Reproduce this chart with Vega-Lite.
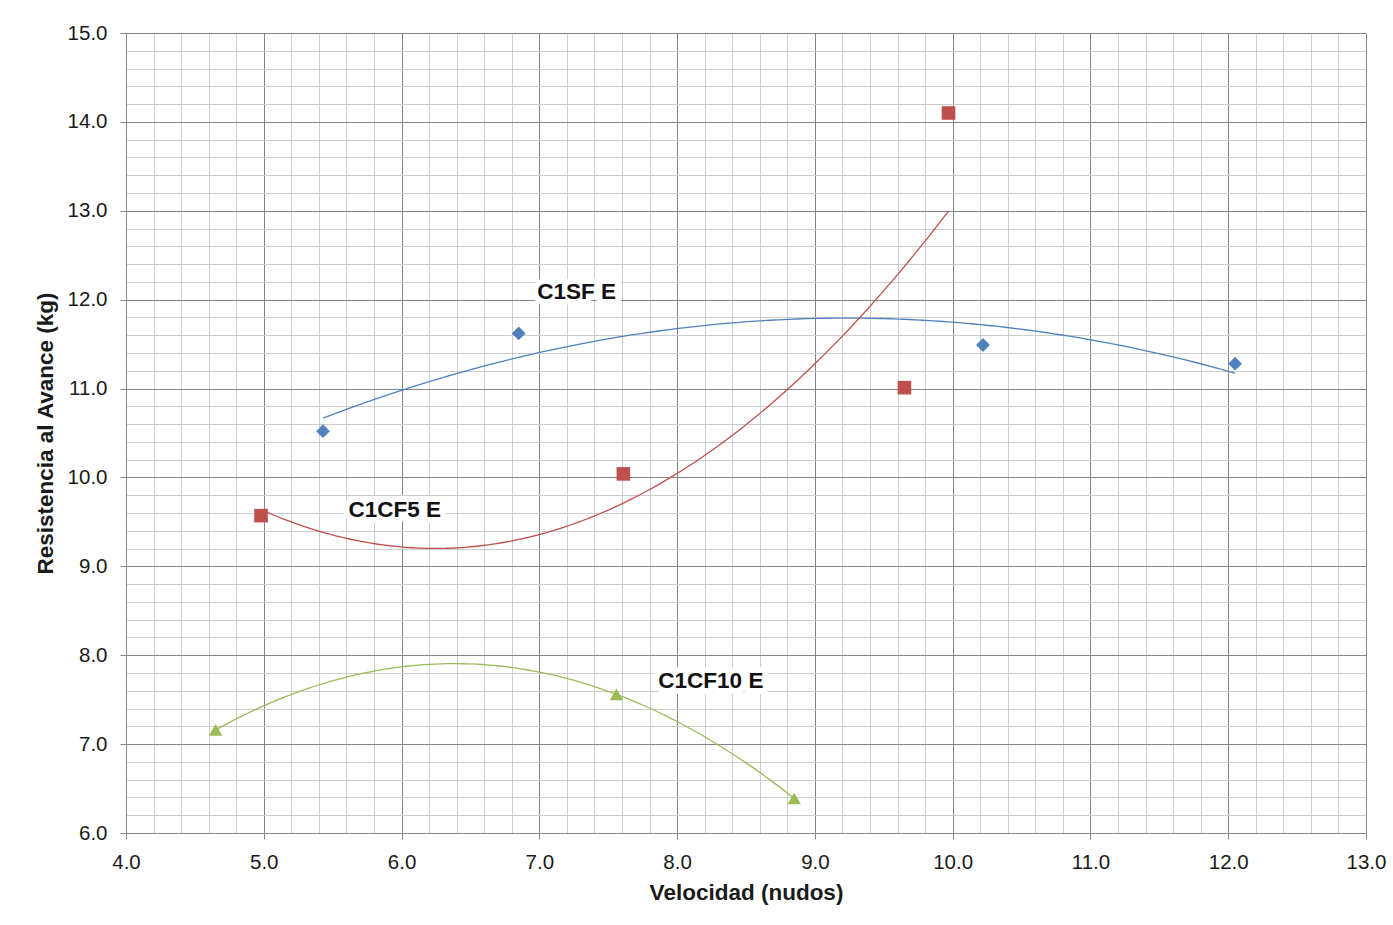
{
  "$schema": "https://vega.github.io/schema/vega-lite/v6.json",
  "width": 1240,
  "height": 800,
  "autosize": "none",
  "padding": {"left": 126, "top": 33, "right": 27, "bottom": 92},
  "background": "white",
  "config": {
    "view": {"stroke": null},
    "font": "Liberation Sans"
  },
  "datasets": {
    "points": [
      {"series": "C1SF E", "x": 5.43, "y": 10.52},
      {"series": "C1SF E", "x": 6.85, "y": 11.62},
      {"series": "C1SF E", "x": 10.22, "y": 11.49},
      {"series": "C1SF E", "x": 12.05, "y": 11.28},
      {"series": "C1CF5 E", "x": 4.98, "y": 9.57},
      {"series": "C1CF5 E", "x": 7.61, "y": 10.04},
      {"series": "C1CF5 E", "x": 9.65, "y": 11.01},
      {"series": "C1CF5 E", "x": 9.97, "y": 14.1},
      {"series": "C1CF10 E", "x": 4.65, "y": 7.16},
      {"series": "C1CF10 E", "x": 7.56, "y": 7.56},
      {"series": "C1CF10 E", "x": 8.85, "y": 6.39}
    ],
    "labels": [
      {"series": "C1SF E", "x": 7.27, "y": 12.09},
      {"series": "C1CF5 E", "x": 5.95, "y": 9.63},
      {"series": "C1CF10 E", "x": 8.245, "y": 7.71}
    ]
  },
  "layer": [
    {
      "data": {"name": "labels"},
      "mark": {"type": "text", "fontSize": 22.5, "fontWeight": "bold", "stroke": "white", "strokeWidth": 12, "fill": "white", "align": "center", "baseline": "middle", "strokeJoin": "round"},
      "encoding": {
        "x": {"field": "x", "type": "quantitative", "scale": {"domain": [4, 13], "nice": false, "zero": false},
          "axis": {
            "values": [4.0,4.2,4.4,4.6,4.8,5.0,5.2,5.4,5.6,5.8,6.0,6.2,6.4,6.6,6.8,7.0,7.2,7.4,7.6,7.8,8.0,8.2,8.4,8.6,8.8,9.0,9.2,9.4,9.6,9.8,10.0,10.2,10.4,10.6,10.8,11.0,11.2,11.4,11.6,11.8,12.0,12.2,12.4,12.6,12.8,13.0],
            "tickCount": 200,
            "labelExpr": "abs(datum.value - round(datum.value)) < 0.01 ? format(datum.value, '.1f') : ''",
            "grid": true,
            "gridColor": {"condition": {"test": "abs(datum.value - round(datum.value)) < 0.01", "value": "#858585"}, "value": "#cdcdcd"},
            "gridWidth": 1,
            "tickOpacity": {"condition": {"test": "abs(datum.value - round(datum.value)) < 0.01", "value": 1}, "value": 0},
            "tickColor": "#858585",
            "tickSize": 6,
            "domainColor": "#858585",
            "labelFontSize": 20.5,
            "labelColor": "#1a1a1a",
            "labelPadding": 13,
            "labelOverlap": false,
            "labelFlush": false,
            "title": "Velocidad (nudos)",
            "titleFontSize": 22.5,
            "titleFontWeight": "bold",
            "titleColor": "#1a1a1a",
            "titlePadding": 9
          }},
        "y": {"field": "y", "type": "quantitative", "scale": {"domain": [6, 15], "nice": false, "zero": false},
          "axis": {
            "values": [6.0,6.2,6.4,6.6,6.8,7.0,7.2,7.4,7.6,7.8,8.0,8.2,8.4,8.6,8.8,9.0,9.2,9.4,9.6,9.8,10.0,10.2,10.4,10.6,10.8,11.0,11.2,11.4,11.6,11.8,12.0,12.2,12.4,12.6,12.8,13.0,13.2,13.4,13.6,13.8,14.0,14.2,14.4,14.6,14.8,15.0],
            "tickCount": 200,
            "labelExpr": "abs(datum.value - round(datum.value)) < 0.01 ? format(datum.value, '.1f') : ''",
            "grid": true,
            "gridColor": {"condition": {"test": "abs(datum.value - round(datum.value)) < 0.01", "value": "#858585"}, "value": "#cdcdcd"},
            "gridWidth": 1,
            "tickOpacity": {"condition": {"test": "abs(datum.value - round(datum.value)) < 0.01", "value": 1}, "value": 0},
            "tickColor": "#858585",
            "tickSize": 6,
            "domainColor": "#858585",
            "labelFontSize": 20.5,
            "labelColor": "#1a1a1a",
            "labelPadding": 13,
            "labelOverlap": false,
            "labelFlush": false,
            "title": "Resistencia al Avance (kg)",
            "titleFontSize": 22.5,
            "titleFontWeight": "bold",
            "titleColor": "#1a1a1a",
            "titlePadding": 10
          }},
        "text": {"field": "series", "type": "nominal"}
      }
    },
    {
      "data": {"name": "labels"},
      "mark": {"type": "text", "fontSize": 22.5, "fontWeight": "bold", "fill": "#111111", "align": "center", "baseline": "middle"},
      "encoding": {
        "x": {"field": "x", "type": "quantitative"},
        "y": {"field": "y", "type": "quantitative"},
        "text": {"field": "series", "type": "nominal"}
      }
    },
    {
      "data": {"name": "points"},
      "transform": [
        {"regression": "y", "on": "x", "groupby": ["series"], "method": "poly", "order": 2}
      ],
      "mark": {"type": "line", "strokeWidth": 1.3, "interpolate": "monotone"},
      "encoding": {
        "x": {"field": "x", "type": "quantitative"},
        "y": {"field": "y", "type": "quantitative"},
        "color": {"field": "series", "type": "nominal", "legend": null,
          "scale": {"domain": ["C1SF E", "C1CF5 E", "C1CF10 E"], "range": ["#4F81BD", "#C0504D", "#9BBB59"]}}
      }
    },
    {
      "data": {"name": "points"},
      "mark": {"type": "point", "filled": true, "opacity": 1},
      "encoding": {
        "x": {"field": "x", "type": "quantitative"},
        "y": {"field": "y", "type": "quantitative"},
        "color": {"field": "series", "type": "nominal", "legend": null},
        "shape": {"field": "series", "type": "nominal", "legend": null,
          "scale": {"domain": ["C1SF E", "C1CF5 E", "C1CF10 E"], "range": ["diamond", "square", "triangle-up"]}},
        "size": {"field": "series", "type": "nominal", "legend": null,
          "scale": {"domain": ["C1SF E", "C1CF5 E", "C1CF10 E"], "range": [190, 180, 170]}}
      }
    }
  ]
}
